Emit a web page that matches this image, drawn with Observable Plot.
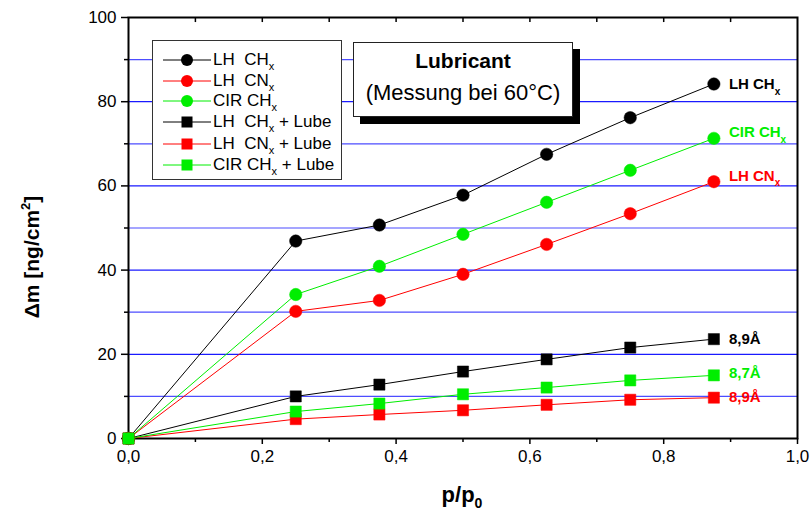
<!DOCTYPE html>
<html><head><meta charset="utf-8">
<script src="https://cdn.jsdelivr.net/npm/d3@7"></script>
<script src="https://cdn.jsdelivr.net/npm/@observablehq/plot@0.6"></script>
<style>
body{margin:0;background:#fff;font-family:"Liberation Sans",Arial,sans-serif;}
#wrap{position:relative;width:812px;height:517px;}
#legend{position:absolute;left:152px;top:40px;width:190px;height:140px;border:1px solid #333;background:#fff;box-sizing:border-box;}
.lrow{position:absolute;left:0;height:20px;font-size:17px;line-height:20px;white-space:nowrap;}
.lrow svg{position:absolute;left:10px;top:0;}
.lrow span{position:absolute;left:60px;top:0;}
sub{font-size:11px;vertical-align:-5px;line-height:0;}
#tbox{position:absolute;left:353px;top:42px;width:220px;height:75px;border:1px solid #222;background:#fff;box-sizing:border-box;box-shadow:7px 7px 0 #000;text-align:center;}
#tbox .t1{font-weight:bold;font-size:21px;margin-top:6px;line-height:24px;}
#tbox .t2{font-size:22px;margin-top:7px;line-height:26px;}
</style></head>
<body><div id="wrap"></div>
<script>
const xVals = [0, 0.25, 0.375, 0.5, 0.625, 0.75, 0.875];
const seriesNames = ["LH CH_x", "LH CN_x", "CIR CH_x", "LH CH_x + Lube", "LH CN_x + Lube", "CIR CH_x + Lube"];
const lhCH      = [0, 46.9, 50.7, 57.8, 67.5, 76.2, 84.2];
const lhCN      = [0, 30.2, 32.8, 39.0, 46.1, 53.4, 61.0];
const cirCH     = [0, 34.2, 40.9, 48.5, 56.1, 63.7, 71.3];
const lhCHLube  = [0, 10.0, 12.8, 15.9, 18.8, 21.6, 23.6];
const lhCNLube  = [0, 4.6, 5.7, 6.7, 8.0, 9.2, 9.7];
const cirCHLube = [0, 6.4, 8.3, 10.5, 12.1, 13.8, 15.0];
const endLabels = ["LH CH_x", "LH CN_x", "CIR CH_x", "8,9Å", "8,9Å", "8,7Å"];
const yTicks = [0, 20, 40, 60, 80, 100];
const yMinor = [10, 30, 50, 70, 90];
const xTicks = [0, 0.2, 0.4, 0.6, 0.8, 1.0];
const xMinor = [0.1, 0.3, 0.5, 0.7, 0.9];
const xTop = [0.1, 0.2, 0.3, 0.4, 0.5, 0.6, 0.7, 0.8, 0.9];
const gridMajor = [20, 40, 60, 80];
const gridMinor = [10, 30, 50, 70, 90];

const colors = ["#000000", "#ff0000", "#00ee00", "#000000", "#ff0000", "#00ee00"];
const symbols = ["circle", "circle", "circle", "square", "square", "square"];
const labelDy = [0, -6, -6, 0, 0, -2];
const allY = [lhCH, lhCN, cirCH, lhCHLube, lhCNLube, cirCHLube];

const rows = [];
allY.forEach((ys, i) => ys.forEach((y, j) => rows.push({x: xVals[j], y, s: i, color: colors[i]})));
const lasts = allY.map((ys, i) => ({x: xVals[xVals.length - 1], y: ys[ys.length - 1], s: i, color: colors[i], label: endLabels[i], dy: labelDy[i]}));

const fmt = d => d.toFixed(1).replace(".", ",");

const plot = Plot.plot({
  width: 812, height: 517,
  marginLeft: 128, marginRight: 15, marginTop: 17, marginBottom: 79,
  style: {fontFamily: "'Liberation Sans', Arial, sans-serif", fontSize: "17px", color: "#000", background: "#fff"},
  x: {domain: [0, 1], label: null},
  y: {domain: [0, 100], label: null},
  color: {type: "identity"},
  marks: [
    Plot.ruleY(gridMinor, {stroke: "#4d4dff", strokeWidth: 1.2}),
    Plot.ruleY(gridMajor, {stroke: "#1a1aff", strokeWidth: 1.2}),
    Plot.axisY({ticks: yTicks, tickSize: 7, tickPadding: 5, tickFormat: d => String(d), strokeWidth: 1.5}),
    Plot.axisY({ticks: yMinor, tickSize: 4, tickFormat: () => "", strokeWidth: 1.5}),
    Plot.axisX({ticks: xTicks, tickSize: 6, tickPadding: 5, tickFormat: fmt, strokeWidth: 1.5}),
    Plot.axisX({ticks: xMinor, tickSize: 4, tickFormat: () => "", strokeWidth: 1.5}),
    Plot.ruleX(xTop, {x: d => d, y1: 100, y2: 98.8, strokeWidth: 1.5}),
    Plot.frame({stroke: "#000", strokeWidth: 2}),
    ...allY.map((_, i) => Plot.line(rows.filter(r => r.s === i), {x: "x", y: "y", stroke: "color", strokeWidth: 1})),
    ...allY.map((_, i) => Plot.dot(rows.filter(r => r.s === i), {x: "x", y: "y", fill: "color", stroke: "color", strokeWidth: 0.5, symbol: symbols[i], r: symbols[i] === "circle" ? 6.2 : 6.3})),
    ...lasts.map(d => Plot.text([d], {x: "x", y: "y", text: "label", fill: "color", dx: 15, dy: d.dy, textAnchor: "start", fontWeight: "bold", fontSize: 15, className: "endlab"}))
  ]
});

const wrap = document.getElementById("wrap");
wrap.appendChild(plot);
const svg = d3.select(plot);

svg.selectAll(".endlab text").each(function() {
  const t = this.textContent;
  if (t.includes("_")) {
    const [a, b] = t.split("_");
    const el = d3.select(this);
    el.text(null);
    el.append("tspan").text(a);
    el.append("tspan").attr("dy", 6).attr("font-size", 10).text(b);
  }
});

// axis titles
const yl = svg.append("text")
  .attr("transform", "translate(39,257) rotate(-90)")
  .attr("text-anchor", "middle")
  .attr("font-weight", "bold").attr("font-size", 21).attr("fill", "#000");
yl.append("tspan").text("Δm [ng/cm");
yl.append("tspan").attr("dy", -9).attr("font-size", 13).text("2");
yl.append("tspan").attr("dy", 9).text("]");

const xl = svg.append("text")
  .attr("x", 462).attr("y", 502)
  .attr("text-anchor", "middle")
  .attr("font-weight", "bold").attr("font-size", 22).attr("fill", "#000");
xl.append("tspan").text("p/p");
xl.append("tspan").attr("dy", 6).attr("font-size", 14).text("0");

// legend
const legend = document.createElement("div");
legend.id = "legend";
const rowTops = [9, 30, 50, 71, 93, 114];
seriesNames.forEach((name, i) => {
  const r = document.createElement("div");
  r.className = "lrow";
  r.style.top = rowTops[i] + "px";
  const shape = symbols[i] === "circle"
    ? `<circle cx="24" cy="10" r="6" fill="${colors[i]}"/>`
    : `<rect x="18.5" y="4.5" width="11" height="11" fill="${colors[i]}"/>`;
  const parts = name.split("_x");
  const html = parts.join("<sub>x</sub>").replace("LH ", "LH&nbsp; ");
  r.innerHTML = `<svg width="48" height="20"><line x1="0" x2="48" y1="10" y2="10" stroke="${colors[i]}" stroke-width="1"/>${shape}</svg><span>${html}</span>`;
  legend.appendChild(r);
});
wrap.appendChild(legend);

const tbox = document.createElement("div");
tbox.id = "tbox";
tbox.innerHTML = `<div class="t1">Lubricant</div><div class="t2">(Messung bei 60°C)</div>`;
wrap.appendChild(tbox);
</script>
</body></html>
